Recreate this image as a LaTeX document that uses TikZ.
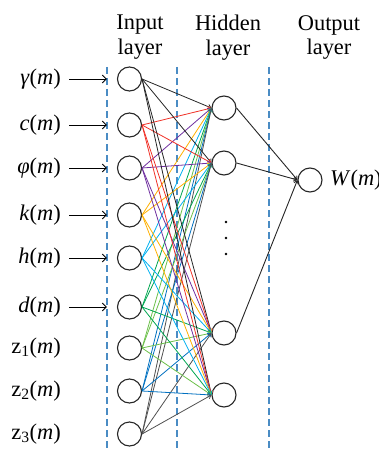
\documentclass[tikz,border=0pt]{standalone}
\usepackage{fontspec}
\setmainfont{Liberation Serif}
\usetikzlibrary{arrows.meta}
\definecolor{sepblue}{RGB}{74,140,196}
\definecolor{wred}{RGB}{240,50,40}
\definecolor{wviolet}{RGB}{112,48,160}
\definecolor{worange}{RGB}{255,176,0}
\definecolor{wcyan}{RGB}{0,176,240}
\definecolor{wgreen}{RGB}{0,166,80}
\definecolor{wlime}{RGB}{108,192,74}
\definecolor{wblue}{RGB}{0,112,192}
\definecolor{wgray}{RGB}{80,80,80}

\begin{document}
\begin{tikzpicture}[x=1bp, y=1bp, font=\fontsize{22.5}{25}\selectfont,
  neuron/.style={draw=black!85, circle, line width=1.1bp, minimum size=24bp, inner sep=0pt},
  varlabel/.style={anchor=east, inner sep=0pt},
  title/.style={anchor=north, align=center, inner sep=0pt},
  feed/.style={-{Straight Barb[length=4bp,width=8bp]}, line width=0.9bp, shorten <=8bp, shorten >=10bp},
  link/.style={-{Straight Barb[length=3bp,width=4.5bp]}, line width=0.8bp},
  sep/.style={draw=sepblue, line width=1.2bp, dash pattern=on 7bp off 4bp}]
\useasboundingbox (0,0) rectangle (378,-449);
% layer titles
\node[title] (tin) at (140,-15) {Input\\layer};
\node[title] (thid) at (228,-15) {Hidden\\layer};
\node[title] (tout) at (329,-15) {Output\\layer};
% separators
\draw[sep] (107,-67) -- (107,-449);
\draw[sep] (177,-67) -- (177,-449);
\draw[sep] (269,-67) -- (269,-449);
% input layer
\node[neuron] (in1) at (129.5,-79) {};
\node[neuron] (in2) at (129.5,-125) {};
\node[neuron] (in3) at (129.5,-168) {};
\node[neuron] (in4) at (129.5,-215) {};
\node[neuron] (in5) at (129.5,-258) {};
\node[neuron] (in6) at (129.5,-307) {};
\node[neuron] (in7) at (129.5,-348) {};
\node[neuron] (in8) at (129.5,-391) {};
\node[neuron] (in9) at (129.5,-434) {};
\node[varlabel] (lgam) at (61,-79) {\textit{γ}(\textit{m})};
\node[varlabel] (lc) at (61,-125) {\textit{c}(\textit{m})};
\node[varlabel] (lphi) at (61,-168) {\textit{φ}(\textit{m})};
\node[varlabel] (lk) at (61,-215) {\textit{k}(\textit{m})};
\node[varlabel] (lh) at (61,-258) {\textit{h}(\textit{m})};
\node[varlabel] (ld) at (61,-307) {\textit{d}(\textit{m})};
\node[varlabel] (lz1) at (61,-348) {z\textsubscript{1}(\textit{m})};
\node[varlabel] (lz2) at (61,-391) {z\textsubscript{2}(\textit{m})};
\node[varlabel] (lz3) at (61,-434) {z\textsubscript{3}(\textit{m})};
% hidden and output layer
\node[neuron] (h1) at (224,-108) {};
\node[neuron] (h2) at (224,-163) {};
\node[neuron] (h3) at (224,-333) {};
\node[neuron] (h4) at (224,-395) {};
\node[neuron] (out) at (310,-180) {};
\node[anchor=west, inner sep=0pt] (lw) at (330,-180) {\textit{W}(\textit{m})};
\foreach \y in {222,238,254} \fill (226,-\y) circle (1.3bp);
% inputs
\draw[feed] (lgam) -- (in1);
\draw[feed] (lc) -- (in2);
\draw[feed] (lphi) -- (in3);
\draw[feed] (lk) -- (in4);
\draw[feed] (lh) -- (in5);
\draw[feed] (ld) -- (in6);
% weights
\foreach \h in {h1,h2,h3,h4} {
  \draw[link, black!85] (in1.east) -- (\h.west);
  \draw[link, wred] (in2.east) -- (\h.west);
  \draw[link, wviolet] (in3.east) -- (\h.west);
  \draw[link, worange] (in4.east) -- (\h.west);
  \draw[link, wcyan] (in5.east) -- (\h.west);
  \draw[link, wgreen] (in6.east) -- (\h.west);
  \draw[link, wlime] (in7.east) -- (\h.west);
  \draw[link, wblue] (in8.east) -- (\h.west);
  \draw[link, wgray] (in9.east) -- (\h.west);
}
\draw[link, black!85, line width=0.9bp] (h1.east) -- (out.west);
\draw[link, black!85, line width=0.9bp] (h2.east) -- (out.west);
\draw[link, black!85, line width=0.9bp] (h3.east) -- (out.west);
\end{tikzpicture}
\end{document}
